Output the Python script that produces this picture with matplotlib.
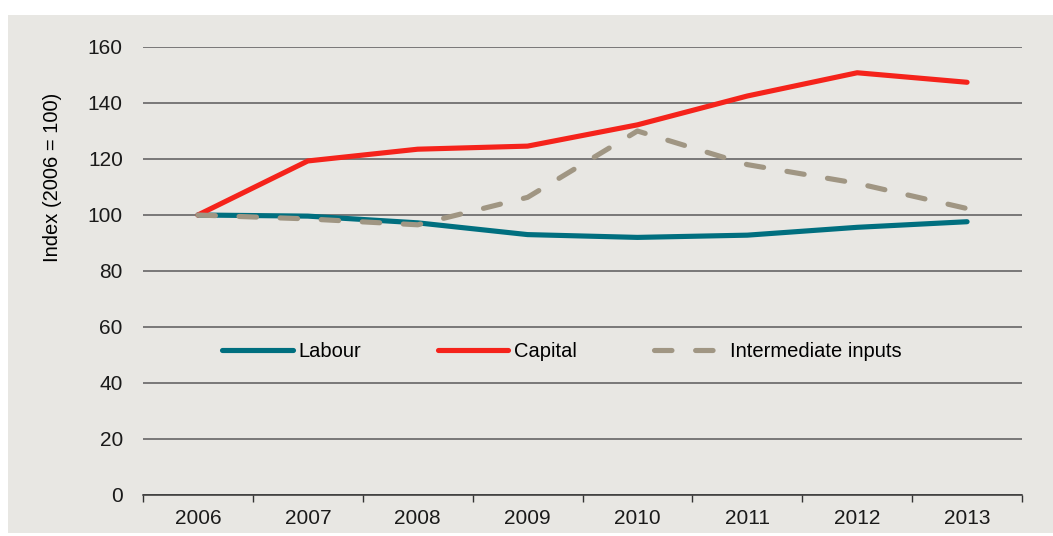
import matplotlib.pyplot as plt
from matplotlib.patches import Rectangle

years = ["2006", "2007", "2008", "2009", "2010", "2011", "2012", "2013"]
labour = [100, 99.6, 97.2, 93.0, 92.0, 92.8, 95.6, 97.6]
capital = [100, 119.3, 123.5, 124.6, 132.2, 142.5, 150.8, 147.4]
intermediate = [100, 98.6, 96.5, 106.3, 130.0, 118.0, 111.3, 102.3]

bg = "#e8e7e3"
plt.rcParams["font.family"] = ["Liberation Sans", "DejaVu Sans"]

fig = plt.figure(figsize=(10.53, 5.36), dpi=100)
# grey panel behind the chart, leaving a thin white margin
fig.patches.append(Rectangle((8 / 1053, 0.006), 1 - 8 / 1053, 1 - 15 / 536 - 0.006,
                             transform=fig.transFigure, facecolor=bg,
                             edgecolor="none", zorder=-1))

ax = fig.add_axes([143 / 1053, 1 - 495 / 536, (1022 - 143) / 1053, (495 - 47) / 536])
ax.set_facecolor(bg)

x = list(range(len(years)))
ax.plot(x, labour, color="#006f7f", lw=3.7, solid_capstyle="round", label="Labour", zorder=3)
ax.plot(x, capital, color="#f5231b", lw=3.7, solid_capstyle="round", label="Capital", zorder=4)
ax.plot(x, intermediate, color="#a09683", lw=3.7, dashes=(3.4, 4.6),
        dash_capstyle="round", label="Intermediate inputs", zorder=5)

ax.set_xlim(-0.5, len(years) - 0.5)
ax.set_ylim(0, 160)
ax.set_yticks(range(0, 161, 20))
ax.yaxis.grid(True, color="#5a5a5a", lw=1.1)
ax.set_axisbelow(True)
ax.tick_params(axis="y", length=0, labelsize=15, pad=14.5, labelcolor="#1a1a1a")

ax.set_xticks(x)
ax.set_xticklabels(years)
ax.set_xticks([i - 0.5 for i in range(len(years) + 1)], minor=True)
ax.tick_params(axis="x", which="major", length=0, labelsize=15, pad=10, labelcolor="#1a1a1a")
ax.tick_params(axis="x", which="minor", length=5, width=1, color="#333333", direction="out")

for side in ["top", "right", "left"]:
    ax.spines[side].set_visible(False)
ax.spines["bottom"].set_color("#333333")
ax.spines["bottom"].set_linewidth(1.1)

ax.set_ylabel("Index (2006 = 100)", fontsize=14.5, fontweight="medium", color="#000000")
ax.yaxis.set_label_coords(-0.092, 0.71)

leg = ax.legend(loc="center left", bbox_to_anchor=(0.0899, 0.321), ncol=3, frameon=False,
                borderpad=0, borderaxespad=0, fontsize=14.5,
                handlelength=3.5, handletextpad=0.3, columnspacing=3.8)

fig.savefig("out.png", dpi=100, facecolor="white")
